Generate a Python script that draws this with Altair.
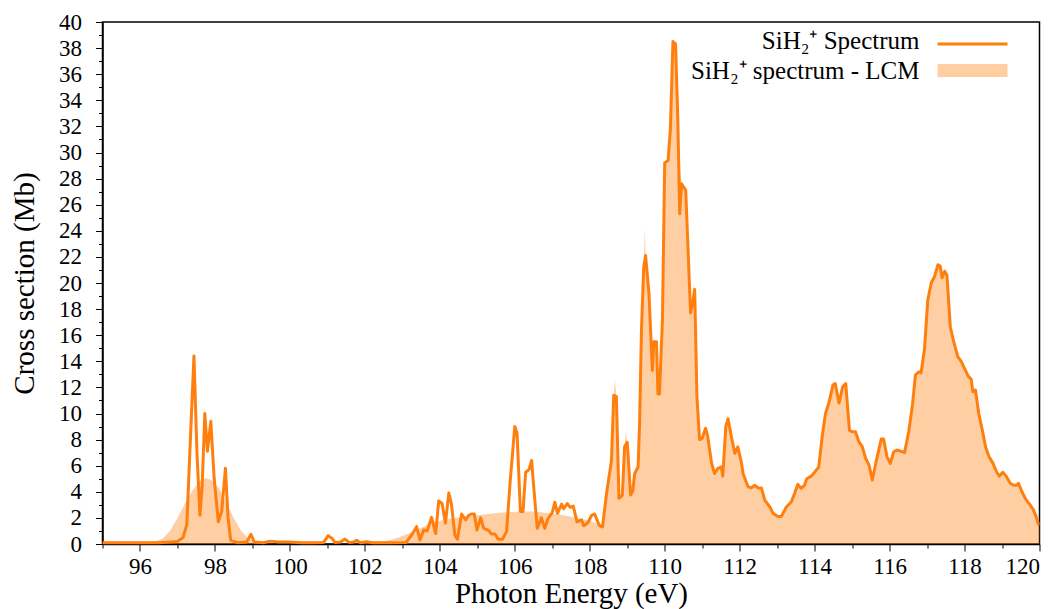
import altair as alt
import pandas as pd

# ---- SiH2+ spectrum (photon energy in eV, cross section in Mb) ----
energy = [
    95.0, 96.0, 96.5, 97.0, 97.15, 97.25, 97.33, 97.44, 97.52, 97.6, 97.66, 97.73, 97.8, 97.89,
    97.98, 98.09, 98.18, 98.28, 98.35, 98.42, 98.6, 98.85, 98.96, 99.05, 99.3, 99.47, 99.7,
    100.0, 100.3, 100.6, 100.9, 101.02, 101.12, 101.2, 101.35, 101.47, 101.58, 101.7, 101.78,
    101.88, 102.05, 102.2, 102.6, 103.1, 103.25, 103.38, 103.47, 103.57, 103.66, 103.78, 103.89,
    103.97, 104.06, 104.15, 104.24, 104.31, 104.4, 104.47, 104.58, 104.69, 104.77, 104.84,
    104.92, 104.99, 105.09, 105.17, 105.29, 105.38, 105.47, 105.56, 105.67, 105.78, 105.88,
    106.0, 106.06, 106.15, 106.22, 106.29, 106.38, 106.45, 106.49, 106.6, 106.71, 106.8,
    106.89, 107.0, 107.07, 107.14, 107.25, 107.3, 107.4, 107.48, 107.56, 107.66, 107.78,
    107.84, 107.95, 108.05, 108.13, 108.25, 108.34, 108.45, 108.58, 108.64, 108.71, 108.78,
    108.87, 108.93, 109.0, 109.09, 109.15, 109.2, 109.29, 109.33, 109.38, 109.44, 109.49,
    109.58, 109.67, 109.71, 109.78, 109.82, 109.86, 109.94, 110.0, 110.09, 110.15, 110.22,
    110.29, 110.35, 110.4, 110.45, 110.56, 110.62, 110.69, 110.74, 110.8, 110.86, 110.93,
    111.0, 111.09, 111.15, 111.25, 111.33, 111.42, 111.51, 111.55, 111.63, 111.69, 111.78,
    111.87, 111.95, 112.05, 112.09, 112.22, 112.31, 112.4, 112.49, 112.58, 112.67, 112.8,
    112.89, 113.02, 113.11, 113.25, 113.38, 113.47, 113.55, 113.64, 113.73, 113.79, 113.91,
    114.0, 114.11, 114.2, 114.29, 114.38, 114.49, 114.55, 114.65, 114.75, 114.83, 114.93,
    115.01, 115.09, 115.18, 115.27, 115.36, 115.45, 115.54, 115.65, 115.78, 115.84, 115.93,
    116.02, 116.11, 116.2, 116.31, 116.4, 116.51, 116.61, 116.69, 116.78, 116.84, 116.93,
    117.02, 117.11, 117.2, 117.29, 117.35, 117.4, 117.47, 117.53, 117.62, 117.71, 117.82,
    117.91, 118.0, 118.09, 118.18, 118.22, 118.29, 118.38, 118.49, 118.56, 118.65, 118.76,
    118.86, 118.93, 119.02, 119.11, 119.22, 119.31, 119.39, 119.44, 119.53, 119.64, 119.75,
    119.84, 119.91, 119.97, 120.0,
]
cross_section = [
    0.1, 0.1, 0.1, 0.2, 0.5, 1.5, 7.0, 14.4, 7.0, 2.2, 4.5, 10.0, 7.1, 9.4,
    5.0, 1.7, 2.5, 5.8, 2.0, 0.3, 0.1, 0.15, 0.75, 0.15, 0.1, 0.22, 0.15,
    0.15, 0.1, 0.1, 0.12, 0.64, 0.45, 0.12, 0.15, 0.38, 0.12, 0.15, 0.28,
    0.1, 0.18, 0.1, 0.1, 0.12, 0.69, 1.33, 0.3, 1.07, 1.0, 2.04, 0.8,
    3.3, 3.1, 1.6, 3.9, 3.06, 0.7, 0.36, 2.3, 1.84, 2.2, 2.3,
    2.3, 1.07, 2.0, 1.2, 1.07, 0.77, 0.77, 0.36, 0.36, 0.95, 4.9,
    9.0, 8.5, 2.5, 2.5, 5.5, 5.7, 6.4, 4.9, 1.2, 2.0, 1.2,
    1.97, 2.4, 3.2, 2.35, 3.06, 2.7, 3.1, 2.8, 2.9, 1.7, 1.85,
    1.4, 1.63, 2.2, 2.3, 1.45, 1.3, 3.9, 6.4, 11.4, 11.3, 3.5,
    3.75, 7.45, 7.8, 3.75, 4.1, 5.4, 5.9, 9.25, 16.4, 21.2, 22.1,
    19.2, 13.3, 15.5, 15.5, 11.5, 11.5, 17.2, 29.2, 29.4, 31.7, 38.5,
    38.3, 32.5, 25.3, 27.6, 27.1, 22.8, 17.7, 18.4, 19.5, 11.3, 8.0,
    8.1, 8.87, 8.2, 6.2, 5.4, 5.8, 5.9, 5.2, 9.0, 9.6, 8.2,
    6.95, 7.45, 6.2, 5.4, 4.4, 4.3, 4.5, 4.3, 4.3, 3.37, 2.86,
    2.35, 2.1, 2.1, 2.86, 3.24, 3.9, 4.57, 4.27, 4.5, 5.0, 5.2,
    5.5, 5.9, 8.2, 10.0, 10.8, 12.2, 12.3, 10.8, 12.05, 12.3, 8.7,
    8.6, 8.6, 7.84, 7.46, 6.57, 6.06, 4.9, 6.44, 8.05, 8.05, 6.7,
    6.18, 7.07, 7.2, 7.1, 7.0, 8.6, 10.65, 12.95, 13.2, 13.1, 14.9,
    18.7, 20.0, 20.5, 21.4, 21.3, 20.4, 20.9, 20.6, 16.65, 15.5, 14.35,
    14.0, 13.46, 12.9, 12.6, 11.67, 11.8, 10.0, 8.5, 7.45, 6.7, 6.18,
    5.5, 5.2, 5.5, 5.2, 4.65, 4.5, 4.5, 4.65, 4.0, 3.4, 3.0,
    2.6, 2.1, 1.53, 1.5,
]

# ---- SiH2+ spectrum - LCM (smooth part below 108 eV) ----
lcm_energy_low = [
    95.0, 96.0, 96.3, 96.6, 96.8, 97.0, 97.2, 97.4, 97.6, 97.75, 97.9, 98.1, 98.3, 98.5,
    98.7, 98.9, 99.1, 99.3, 99.6, 101.5, 102.0, 102.3, 102.6, 102.9, 103.2, 103.5, 103.8,
    104.1, 104.4, 104.7, 105.0, 105.3, 105.6, 105.9, 106.2, 106.5, 106.8, 107.1, 107.4,
    107.7, 108.0,
]
lcm_value_low = [
    0.0, 0.02, 0.1, 0.4, 1.0, 2.0, 3.1, 4.1, 4.8, 5.05, 4.9, 4.3, 3.2, 2.0,
    1.0, 0.4, 0.12, 0.03, 0.0, 0.0, 0.03, 0.1, 0.25, 0.5, 0.85, 1.25, 1.6,
    1.85, 2.0, 2.1, 2.2, 2.3, 2.4, 2.45, 2.5, 2.5, 2.4, 2.3, 2.15,
    1.95, 1.8,
]
# LCM values where it rises above the spectrum line (above 108 eV it follows the spectrum)
lcm_peak_energy = [108.67, 108.96, 109.47, 110.38, 110.4, 110.42, 110.77, 111.68]
lcm_peak_value = [12.6, 8.6, 24.2, 30.5, 29.5, 28.5, 19.9, 9.9]

x_major = list(range(96, 121, 2))
x_minor = list(range(95, 120, 2))
y_major = list(range(0, 41, 2))
y_minor = list(range(1, 40, 2))

legend_labels = ["SiH\u2082\u207a Spectrum", "SiH\u2082\u207a spectrum - LCM"]

LINE_COLOR = "#ff7f0e"
FONT = "Liberation Serif"

line_df = pd.DataFrame({"E": energy, "sigma": cross_section})
hi = {e: v for e, v in zip(energy, cross_section) if e >= 108.25}
hi.update(dict(zip(lcm_peak_energy, lcm_peak_value)))
lcm_pts = list(zip(lcm_energy_low, lcm_value_low)) + sorted(hi.items())
lcm_df = pd.DataFrame(lcm_pts, columns=["E", "sigma"]).sort_values("E")

xscale = alt.Scale(domain=[95, 120], nice=False, zero=False)
yscale = alt.Scale(domain=[0, 40], nice=False)

x_axis_major = alt.Axis(values=x_major, title="Photon Energy (eV)", orient="bottom",
                        labelFontSize=23, titleFontSize=29, tickSize=7, labelPadding=4,
                        titlePadding=1, format="d", labelFont=FONT, titleFont=FONT)
y_axis_major = alt.Axis(values=y_major, title="Cross section (Mb)", orient="left",
                        labelFontSize=23, titleFontSize=29, tickSize=7, labelPadding=14,
                        titlePadding=19, format="d", labelFont=FONT, titleFont=FONT)
x_axis_minor = alt.Axis(values=x_minor, title=None, orient="bottom", labels=False,
                        domain=False, tickSize=4)
y_axis_minor = alt.Axis(values=y_minor, title=None, orient="left", labels=False,
                        domain=False, tickSize=4)

area = alt.Chart(lcm_df).mark_area(color=LINE_COLOR, opacity=0.38, interpolate="linear").encode(
    x=alt.X("E:Q", scale=xscale, axis=x_axis_major),
    y=alt.Y("sigma:Q", scale=yscale, axis=y_axis_major),
)

line = alt.Chart(line_df).mark_line(color=LINE_COLOR, strokeWidth=3, strokeJoin="round").encode(
    x=alt.X("E:Q", scale=xscale, axis=x_axis_minor),
    y=alt.Y("sigma:Q", scale=yscale, axis=y_axis_minor),
)

leg_df1 = pd.DataFrame({"label": [legend_labels[0]]})
leg_df2 = pd.DataFrame({"label": [legend_labels[1]]})

leg_text1 = alt.Chart(leg_df1).mark_text(align="right", baseline="middle", font=FONT,
                                         fontSize=25, color="black").encode(
    x=alt.value(817), y=alt.value(19), text="label:N")
leg_text2 = alt.Chart(leg_df2).mark_text(align="right", baseline="middle", font=FONT,
                                         fontSize=25, color="black").encode(
    x=alt.value(817), y=alt.value(49), text="label:N")
leg_line = alt.Chart(leg_df1).mark_rule(color=LINE_COLOR, strokeWidth=3).encode(
    x=alt.value(835), x2=alt.value(905), y=alt.value(22))
leg_rect = alt.Chart(leg_df2).mark_rect(color=LINE_COLOR, opacity=0.38).encode(
    x=alt.value(835), x2=alt.value(905), y=alt.value(42), y2=alt.value(55))

chart = alt.layer(area, line, leg_text1, leg_text2, leg_line, leg_rect).resolve_axis(
    x="independent", y="independent"
).properties(
    width=937, height=522,
    autosize=alt.AutoSizeParams(type="none"),
    padding={"left": 94.5, "top": 14, "right": 12, "bottom": 65},
).configure(
    font=FONT
).configure_axis(
    labelFont=FONT, titleFont=FONT, labelColor="black", titleColor="black",
    tickColor="black", domainColor="black", grid=False, titleFontWeight="normal",
    tickWidth=1, domainWidth=1.5,
).configure_view(stroke="black", strokeWidth=1.5)

chart.save("out.html", embed_options={"renderer": "svg", "actions": False})
